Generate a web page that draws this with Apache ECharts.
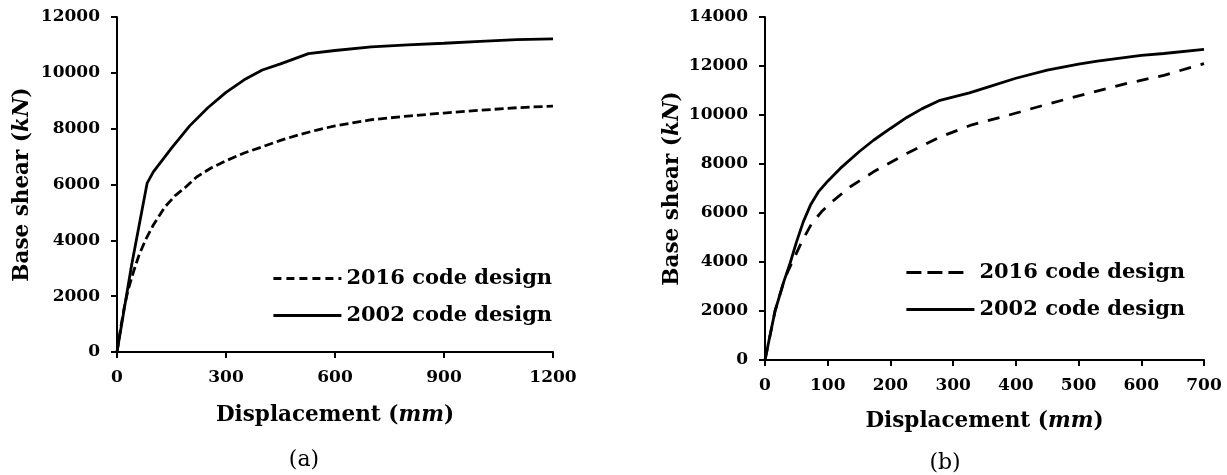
<!DOCTYPE html>
<html><head><meta charset="utf-8">
<script src="https://cdn.jsdelivr.net/npm/echarts@6/dist/echarts.min.js"></script>
<style>html,body{margin:0;padding:0;background:#fff}#c{width:1227px;height:475px}</style>
</head><body><div id="c"></div>
<script>
// ---- data ----
const seriesNames = ['2016 code design', '2002 code design'];
const panelLabels = ['(a)', '(b)'];
const xTitle = 'Displacement';
const xUnit = 'mm';
const yTitle = 'Base shear';
const yUnit = 'kN';

// panel (a)
const a2016Disp  = [0,10,20,30,46,60,79,100,132,160,190,220,260,300,350,400,450,500,550,600,700,800,900,1000,1100,1200];
const a2016Shear = [0,850,1600,2200,2900,3450,4030,4550,5200,5600,5920,6280,6600,6850,7130,7350,7580,7780,7950,8100,8320,8450,8560,8660,8750,8810];
const a2002Disp  = [0,40,83,100,150,200,250,300,350,400,450,527,600,700,800,900,1000,1100,1200];
const a2002Shear = [0,3100,6050,6450,7300,8100,8750,9300,9750,10100,10320,10690,10800,10930,11000,11060,11130,11190,11220];

// panel (b)
const b2016Disp  = [0,16,30,37,45,60,74,90,104,136,173,226,279,330,388,450,512,574,636,700];
const b2016Shear = [0,2000,3200,3650,4080,4900,5550,6050,6400,7070,7680,8430,9100,9600,9990,10440,10860,11270,11620,12100];
const b2002Disp  = [0,16,30,40,50,61,73,85,100,120,150,173,200,226,250,279,326,359,400,450,500,530,600,636,700];
const b2002Shear = [0,2000,3200,3950,4800,5640,6350,6860,7300,7820,8500,8970,9450,9900,10250,10600,10900,11170,11500,11830,12080,12200,12430,12510,12680];

// axis ranges / ticks
const aXMax = 1200, aXStep = 300, aYMax = 12000, aYStep = 2000;
const bXMax = 700,  bXStep = 100, bYMax = 14000, bYStep = 2000;

function zip(xs, ys) { return xs.map((x, i) => [x, ys[i]]); }

const FONT = 'DejaVu Serif';
const nameRich = {
  b: { fontFamily: FONT, fontWeight: 'bold', fontSize: 21.5, color: '#000' },
  i: { fontFamily: FONT, fontWeight: 'bold', fontStyle: 'italic', fontSize: 21.5, color: '#000' }
};
const axLine = { show: true, onZero: false, lineStyle: { color: '#000', width: 2 } };
const axTick = { show: true, length: 6, lineStyle: { color: '#000', width: 2 } };
const axLabel = { color: '#000', fontFamily: FONT, fontWeight: 'bold', fontSize: 17, margin: 17,
                  formatter: v => String(v) };

function xAxis(grid, max, step, gap) {
  return {
    type: 'value', gridIndex: grid, min: 0, max: max, interval: step,
    axisLine: axLine, axisTick: axTick, axisLabel: axLabel, splitLine: { show: false },
    name: '{b|' + xTitle + ' (}{i|' + xUnit + '}{b|)}', nameLocation: 'middle', nameGap: gap,
    nameTextStyle: { rich: nameRich }
  };
}
function yAxis(grid, max, step, gap) {
  return {
    type: 'value', gridIndex: grid, min: 0, max: max, interval: step,
    axisLine: axLine, axisTick: axTick, axisLabel: axLabel, splitLine: { show: false },
    name: '{b|' + yTitle + ' (}{i|' + yUnit + '}{b|)}', nameLocation: 'middle', nameGap: gap,
    nameTextStyle: { rich: nameRich }
  };
}
function line(name, xi, data, type) {
  return {
    type: 'line', name: name, xAxisIndex: xi, yAxisIndex: xi, data: data,
    symbol: 'none', showSymbol: false, smooth: false,
    lineStyle: { color: '#000', width: 2.8, type: type },
    itemStyle: { color: '#000' }
  };
}
const legText = { color: '#000', fontFamily: FONT, fontWeight: 'bold', fontSize: 21, lineHeight: 21 };
const noSym = { opacity: 0, color: 'rgba(0,0,0,0)', borderWidth: 0 };

const option = {
  animation: false,
  backgroundColor: '#fff',
  grid: [
    { left: 117, right: 1227 - 553, top: 17, bottom: 475 - 352 },
    { left: 765, right: 1227 - 1204, top: 17, bottom: 475 - 360 }
  ],
  xAxis: [xAxis(0, aXMax, aXStep, 52), xAxis(1, bXMax, bXStep, 50)],
  yAxis: [yAxis(0, aYMax, aYStep, 84), yAxis(1, bYMax, bYStep, 82)],
  legend: [
    {
      left: 272, top: 268, orient: 'vertical', padding: 0, itemGap: 16,
      itemWidth: 68, itemHeight: 14, textStyle: legText, itemStyle: noSym,
      data: [
        { name: seriesNames[0], itemStyle: noSym, lineStyle: { type: [8, 5], width: 2.8, color: '#000' } },
        { name: seriesNames[1], itemStyle: noSym, lineStyle: { type: 'solid', width: 2.8, color: '#000' } }
      ]
    },
    {
      left: 905, top: 262, orient: 'vertical', padding: 0, itemGap: 16,
      itemWidth: 68, itemHeight: 14, textStyle: legText, itemStyle: noSym,
      data: [
        { name: seriesNames[0], itemStyle: noSym, lineStyle: { type: [15, 6, 15, 6, 15, 40], width: 2.8, color: '#000' } },
        { name: seriesNames[1], itemStyle: noSym, lineStyle: { type: 'solid', width: 2.8, color: '#000' } }
      ]
    }
  ],
  graphic: [
    { type: 'text', x: 304, y: 460, style: { text: panelLabels[0], font: '22px "DejaVu Serif"', fill: '#000', align: 'center', verticalAlign: 'middle', textAlign: 'center', textVerticalAlign: 'middle' } },
    { type: 'text', x: 945, y: 463, style: { text: panelLabels[1], font: '22px "DejaVu Serif"', fill: '#000', align: 'center', verticalAlign: 'middle', textAlign: 'center', textVerticalAlign: 'middle' } }
  ],
  series: [
    line(seriesNames[0], 0, zip(a2016Disp, a2016Shear), [9, 4]),
    line(seriesNames[1], 0, zip(a2002Disp, a2002Shear), 'solid'),
    line(seriesNames[0], 1, zip(b2016Disp, b2016Shear), [12, 10]),
    line(seriesNames[1], 1, zip(b2002Disp, b2002Shear), 'solid')
  ]
};
const chart = echarts.init(document.getElementById('c'), null, { renderer: 'canvas' });
chart.setOption(option);
</script>
</body></html>
